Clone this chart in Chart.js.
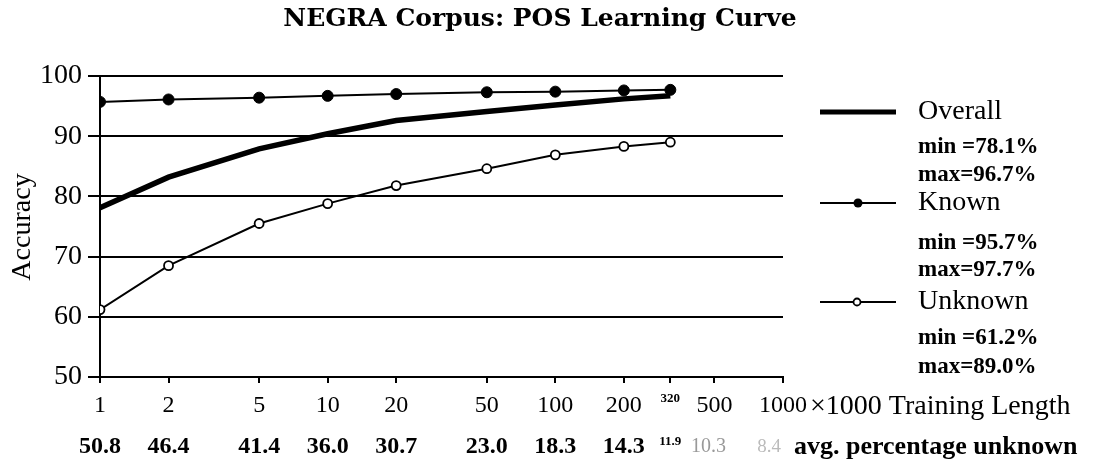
<!DOCTYPE html>
<html>
<head>
<meta charset="utf-8">
<title>NEGRA Corpus: POS Learning Curve</title>
<script src="https://cdn.jsdelivr.net/npm/chart.js@4.4.1/dist/chart.umd.min.js"></script>
<style>
  html, body { margin: 0; padding: 0; background: #fff; }
</style>
</head>
<body>
<canvas id="chart" width="1095" height="465"></canvas>
<script>
// values
const trainingLength = [1, 2, 5, 10, 20, 50, 100, 200, 320];
const overallAcc = [78.1, 83.2, 87.9, 90.4, 92.6, 94.1, 95.2, 96.2, 96.7];
const knownAcc = [95.7, 96.1, 96.4, 96.7, 97.0, 97.3, 97.4, 97.6, 97.7];
const unknownAcc = [61.2, 68.5, 75.5, 78.8, 81.8, 84.6, 86.9, 88.3, 89.0];

const xTicks = [1, 2, 5, 10, 20, 50, 100, 200, 320, 500, 1000];
const pctUnknown = ['50.8', '46.4', '41.4', '36.0', '30.7', '23.0', '18.3', '14.3', '11.9', '10.3', '8.4'];

const seriesNames = ['Overall', 'Known', 'Unknown'];
const seriesMin = ['78.1%', '95.7%', '61.2%'];
const seriesMax = ['96.7%', '97.7%', '89.0%'];

const SERIF = "'Liberation Serif', 'Times New Roman', serif";

function pts(ys) {
    return trainingLength.map((x, i) => ({ x: x, y: ys[i] }));
}

// extra text + legend, drawn on top of the chart
const extras = {
    id: 'extras',
    afterDraw(chart) {
        const ctx = chart.ctx;
        const xs = chart.scales.x;
        ctx.save();
        ctx.fillStyle = '#000';
        ctx.strokeStyle = '#000';

        // title
        ctx.font = "bold 25px 'DejaVu Serif', serif";
        ctx.textAlign = 'center';
        ctx.textBaseline = 'middle';
        ctx.fillText('NEGRA Corpus: POS Learning Curve', 540, 19);

        // y title
        ctx.save();
        ctx.translate(23, 227);
        ctx.rotate(-Math.PI / 2);
        ctx.font = '28px ' + SERIF;
        ctx.fillText('Accuracy', 0, 0);
        ctx.restore();

        // x title, right of the last tick label
        ctx.textAlign = 'left';
        ctx.font = '28px ' + SERIF;
        ctx.fillText('\u00d71000 Training Length', 810, 407);

        // avg. percentage unknown row
        pctUnknown.forEach((txt, i) => {
            let px = xs.getPixelForValue(xTicks[i]);
            ctx.textAlign = 'center';
            let y = 447;
            if (txt === '11.9') {
                ctx.font = 'bold 13px ' + SERIF;
                ctx.fillStyle = '#000';
                y = 442;
            } else if (txt === '10.3') {
                ctx.font = '20px ' + SERIF;
                ctx.fillStyle = '#999';
                px -= 6;
            } else if (txt === '8.4') {
                ctx.font = '19px ' + SERIF;
                ctx.fillStyle = '#bbb';
                px -= 14;
            } else {
                ctx.font = 'bold 24px ' + SERIF;
                ctx.fillStyle = '#000';
            }
            ctx.fillText(txt, px, y);
        });
        ctx.fillStyle = '#000';
        ctx.textAlign = 'left';
        ctx.font = 'bold 26px ' + SERIF;
        ctx.fillText('avg. percentage unknown', 794, 447);

        // legend
        const nameY = [112, 203, 302];
        const minY = [147, 243, 338];
        const maxY = [175, 270, 367];
        seriesNames.forEach((name, i) => {
            ctx.beginPath();
            ctx.lineWidth = i === 0 ? 5 : 2;
            ctx.moveTo(820, nameY[i]);
            ctx.lineTo(896, nameY[i]);
            ctx.stroke();
            if (i === 1) {
                ctx.beginPath();
                ctx.arc(858, nameY[i], 4.5, 0, Math.PI * 2);
                ctx.fill();
            } else if (i === 2) {
                ctx.beginPath();
                ctx.fillStyle = '#fff';
                ctx.lineWidth = 1.8;
                ctx.arc(857, nameY[i], 3.5, 0, Math.PI * 2);
                ctx.fill();
                ctx.stroke();
                ctx.fillStyle = '#000';
            }
            ctx.font = '28px ' + SERIF;
            ctx.fillText(name, 918, nameY[i]);
            ctx.font = 'bold 23px ' + SERIF;
            ctx.fillText('min =' + seriesMin[i], 918, minY[i]);
            ctx.fillText('max=' + seriesMax[i], 918, maxY[i]);
        });
        ctx.restore();
    }
};

new Chart(document.getElementById('chart'), {
    type: 'line',
    data: {
        datasets: [
            {
                label: seriesNames[1],
                data: pts(knownAcc),
                borderColor: '#000',
                borderWidth: 2,
                pointRadius: 5.5,
                pointBackgroundColor: '#000',
                pointBorderColor: '#000',
                pointBorderWidth: 1
            },
            {
                label: seriesNames[2],
                data: pts(unknownAcc),
                borderColor: '#000',
                borderWidth: 2,
                pointRadius: 4.5,
                pointBackgroundColor: '#fff',
                pointBorderColor: '#000',
                pointBorderWidth: 1.8
            },
            {
                label: seriesNames[0],
                data: pts(overallAcc),
                borderColor: '#000',
                borderWidth: 5.5,
                pointRadius: 0
            }
        ]
    },
    options: {
        responsive: false,
        animation: false,
        devicePixelRatio: 1,
        layout: { padding: { left: 0, top: 76, right: 312, bottom: 0 } },
        plugins: {
            legend: { display: false },
            title: { display: false },
            tooltip: { enabled: false }
        },
        scales: {
            x: {
                type: 'logarithmic',
                min: 1,
                max: 1000,
                afterFit: function(axis) { axis.height = 88; },
                afterBuildTicks: function(axis) {
                    axis.ticks = xTicks.map(v => ({ value: v }));
                },
                border: { display: true, color: '#000', width: 2 },
                grid: {
                    drawOnChartArea: false,
                    drawTicks: true,
                    tickLength: 6,
                    color: '#000',
                    lineWidth: 2
                },
                ticks: {
                    autoSkip: false,
                    maxRotation: 0,
                    padding: 8,
                    color: '#000',
                    font: function(c) {
                        if (c.tick && c.tick.value === 320) {
                            return { family: SERIF, size: 13, weight: 'bold' };
                        }
                        return { family: SERIF, size: 24 };
                    },
                    callback: function(value) {
                        return xTicks.includes(value) ? String(value) : '';
                    }
                }
            },
            y: {
                min: 50,
                max: 100,
                afterFit: function(axis) { axis.width = 100; },
                border: { display: true, color: '#000', width: 2 },
                grid: {
                    color: '#000',
                    lineWidth: 2,
                    drawTicks: true,
                    tickLength: 12
                },
                ticks: {
                    stepSize: 10,
                    padding: 6,
                    color: '#000',
                    font: { family: SERIF, size: 28 }
                }
            }
        }
    },
    plugins: [extras]
});
</script>
</body>
</html>
